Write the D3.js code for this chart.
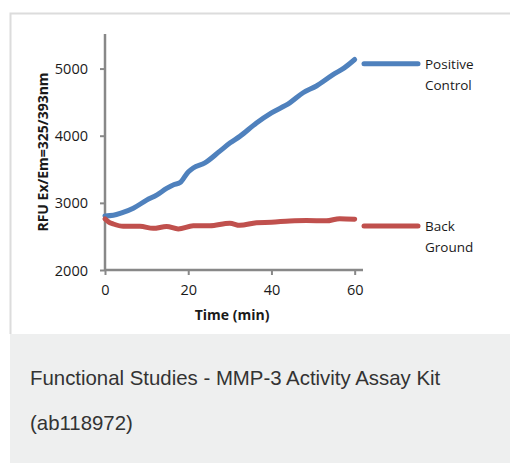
<!DOCTYPE html>
<html><head><meta charset="utf-8">
<script src="https://cdn.jsdelivr.net/npm/d3@7"></script>
<style>
body{margin:0;background:#fff;}
svg{display:block;}
</style></head>
<body><svg id="c" width="510" height="463"></svg>
<script>
const timeTicks=[0,20,40,60];
const rfuTicks=[2000,3000,4000,5000];
const posT=[0,2,4,6.8,10,12.5,14.8,16.5,18,20,21.2,24,27.6,30,32.4,36.4,40,44.4,47.6,50.8,54.8,57.5,60];
const posV=[2805,2815,2850,2920,3040,3120,3215,3270,3300,3460,3520,3595,3770,3890,3990,4190,4340,4490,4640,4740,4910,5010,5135];
const bgT=[0,1,2,4.4,8.4,11.6,14.8,17.6,21.2,25.2,30,32.4,36.4,40,44.4,48.4,53.2,56.4,60];
const bgV=[2760,2710,2685,2650,2650,2620,2648,2612,2658,2660,2697,2665,2705,2712,2730,2737,2732,2765,2757];
const seriesNames=[["Positive","Control"],["Back","Ground"]];
const colors=["#4f81bd","#c0504d"];

const svg=d3.select("#c");
// card
svg.append("rect").attr("x",0).attr("y",0).attr("width",510).attr("height",463).attr("fill","#fff");
svg.append("rect").attr("x",10).attr("y",334).attr("width",500).attr("height",129).attr("fill","#eeefef");
svg.append("path").attr("d","M10.5,334V13.5H510").attr("fill","none").attr("stroke","#dcdcdc").attr("stroke-width",2);

const x=d3.scaleLinear().domain([0,62]).range([105,363]);
const y=d3.scaleLinear().domain([2000,5500]).range([270,35]);
const font="'Open Sans', 'Liberation Sans', sans-serif";

const g=svg.append("g");
// axes
const yAx=g.append("g").attr("transform","translate(105,0)").call(d3.axisLeft(y).tickValues(rfuTicks).tickSize(5).tickPadding(12).tickFormat(d3.format("d")));
yAx.select(".domain").attr("d","M0,270V34");
const xAx=g.append("g").attr("transform","translate(0,270)").call(d3.axisBottom(x).tickValues(timeTicks).tickSize(5).tickPadding(10).tickFormat(d3.format("d")));
xAx.select(".domain").attr("d","M105,0H363");
g.selectAll(".domain").attr("stroke","#888").attr("stroke-width",2.5);
g.selectAll(".tick line").attr("stroke","#888").attr("stroke-width",2);
g.selectAll(".tick text").attr("font-family",font).attr("font-size",14.5).attr("fill","#1a1a1a");
xAx.selectAll(".tick text").attr("dy",null).attr("y",25);
yAx.selectAll(".tick text").attr("dy","0.35em").attr("x",-17);

// axis titles
svg.append("text").attr("transform","translate(48,152) rotate(-90)").attr("text-anchor","middle")
  .attr("font-family",font).attr("font-weight","bold").attr("font-size",14).attr("fill","#1a1a1a").text("RFU Ex/Em=325/393nm");
svg.append("text").attr("x",232).attr("y",320).attr("text-anchor","middle")
  .attr("font-family",font).attr("font-weight","bold").attr("font-size",14).attr("fill","#1a1a1a").text("Time (min)");

const line=d3.line().x(d=>x(d[0])).y(d=>y(d[1])).curve(d3.curveMonotoneX);
const data=[d3.zip(posT,posV),d3.zip(bgT,bgV)];
data.forEach((d,i)=>{
  svg.append("path").datum(d).attr("d",line).attr("fill","none").attr("stroke",colors[i]).attr("stroke-width",5).attr("stroke-linecap","round").attr("stroke-linejoin","round");
});
// legend
const legY=[y(5070),y(2655)];
seriesNames.forEach((n,i)=>{
  const ly=legY[i];
  svg.append("line").attr("x1",364).attr("x2",418).attr("y1",ly).attr("y2",ly).attr("stroke",colors[i]).attr("stroke-width",5).attr("stroke-linecap","round");
  n.forEach((t,j)=>{
    svg.append("text").attr("x",425).attr("y",ly+5+j*21).attr("font-family",font).attr("font-size",13.5).attr("fill","#1a1a1a").text(t);
  });
});
// caption
const cap=["Functional Studies - MMP-3 Activity Assay Kit","(ab118972)"];
cap.forEach((t,i)=>{
  svg.append("text").attr("x",30).attr("y",385+i*45).attr("font-family","'Liberation Sans', Arial, sans-serif").attr("font-size",20.4).attr("fill","#333").text(t);
});
</script></body></html>
